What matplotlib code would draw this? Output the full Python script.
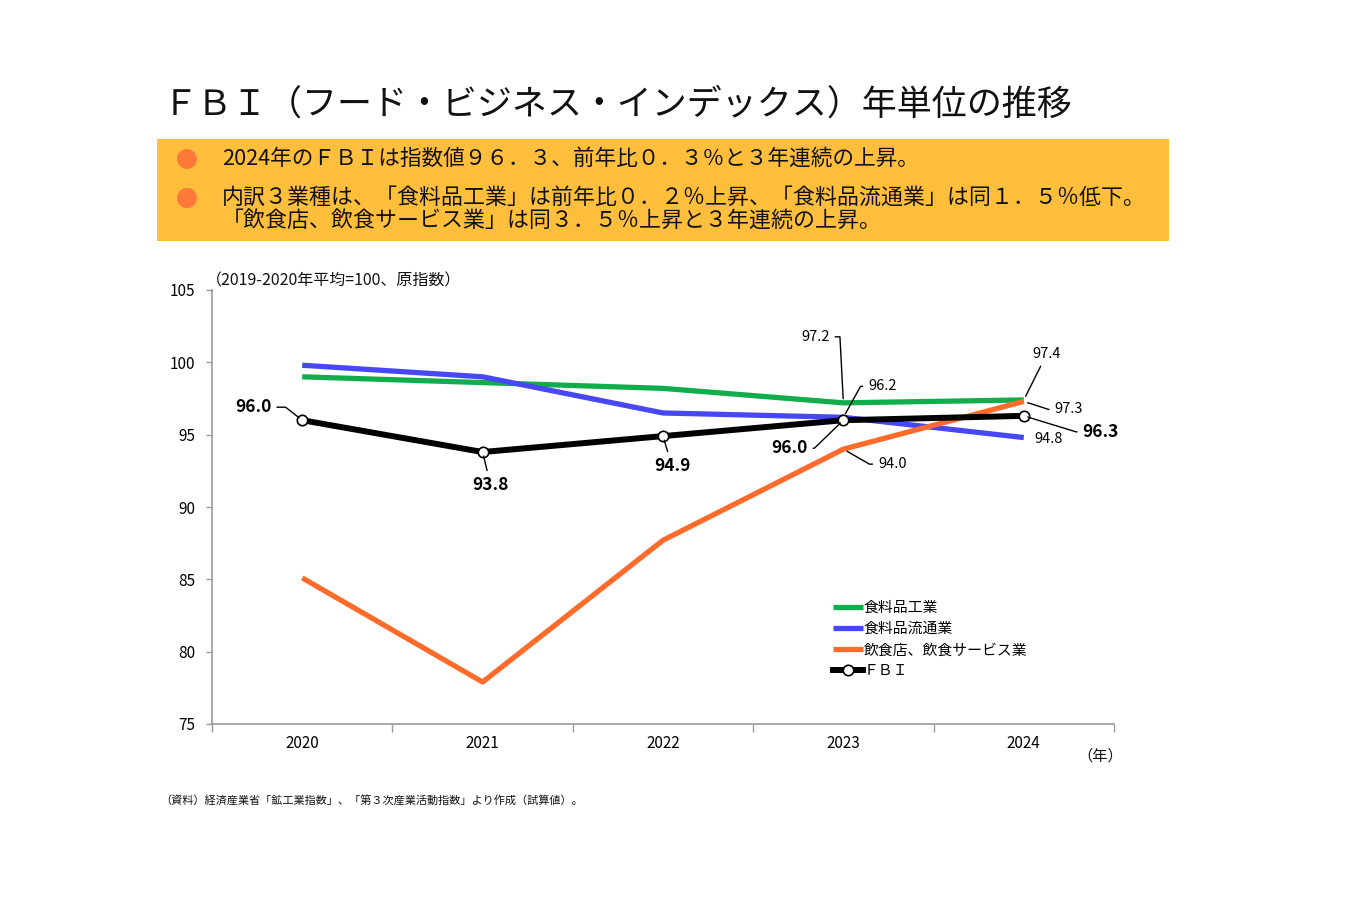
import matplotlib
matplotlib.use("Agg")
import matplotlib.pyplot as plt
from matplotlib.patches import Rectangle, Ellipse

plt.rcParams['font.family'] = ['Noto Sans CJK JP', 'DejaVu Sans']

years = ["2020", "2021", "2022", "2023", "2024"]
food_mfg = [99.0, 98.6, 98.2, 97.2, 97.4]
food_dist = [99.8, 99.0, 96.5, 96.2, 94.8]
food_serv = [85.1, 77.9, 87.7, 94.0, 97.3]
fbi = [96.0, 93.8, 94.9, 96.0, 96.3]

series_names = ["食料品工業", "食料品流通業", "飲食店、飲食サービス業", "ＦＢＩ"]
colors = ["#12AD4B", "#4747F5", "#FF6B2B", "#000000"]

title = "ＦＢＩ（フード・ビジネス・インデックス）年単位の推移"
bullet_lines = [
    "2024年のＦＢＩは指数値９６．３、前年比０．３％と３年連続の上昇。",
    "内訳３業種は、「食料品工業」は前年比０．２％上昇、「食料品流通業」は同１．５％低下。",
    "「飲食店、飲食サービス業」は同３．５％上昇と３年連続の上昇。",
]
unit_note = "（2019-2020年平均=100、原指数）"
year_unit = "（年）"
source = "（資料）経済産業省「鉱工業指数」、「第３次産業活動指数」より作成（試算値）。"
yticks = [75, 80, 85, 90, 95, 100, 105]

W, H = 1350, 900
fig = plt.figure(figsize=(13.5, 9), dpi=100)
fig.patch.set_facecolor("white")

def fx(px):
    return px / W

def fy(py):
    return 1 - py / H

# title
fig.text(fx(163), fy(105), title, fontsize=25.2, va="center", ha="left", color="#111111")

# header box
fig.patches.append(Rectangle((fx(157), fy(241)), fx(1169) - fx(157), fy(139) - fy(241),
                             transform=fig.transFigure, facecolor="#FFBF3C", edgecolor="none"))
for yy in (159, 198):
    fig.patches.append(Ellipse((fx(187), fy(yy)), 20 / W, 20 / H, transform=fig.transFigure,
                               facecolor="#FF7A3A", edgecolor="none"))
fig.text(fx(222), fy(159), bullet_lines[0], fontsize=15.6, va="center", ha="left", color="#111111")
fig.text(fx(222), fy(198), bullet_lines[1], fontsize=15.8, va="center", ha="left", color="#111111")
fig.text(fx(222), fy(222), bullet_lines[2], fontsize=15.8, va="center", ha="left", color="#111111")

# axes
ax = fig.add_axes([fx(212), fy(724), fx(1114) - fx(212), fy(290) - fy(724)])
x = list(range(len(years)))
ax.plot(x, food_mfg, color=colors[0], lw=3.8, label=series_names[0], solid_capstyle="butt", zorder=3)
ax.plot(x, food_dist, color=colors[1], lw=3.8, label=series_names[1], solid_capstyle="butt", zorder=3)
ax.plot(x, food_serv, color=colors[2], lw=3.8, label=series_names[2], solid_capstyle="butt", zorder=3)
ax.plot(x, fbi, color=colors[3], lw=4.3, marker="o", markersize=7.5, markerfacecolor="white",
        markeredgecolor="black", markeredgewidth=1.2, label=series_names[3], zorder=4)

ax.set_xlim(-0.5, len(years) - 0.5)
ax.set_ylim(75, 105)
ax.set_yticks(yticks)
ax.set_yticklabels([str(v) for v in yticks], fontsize=11)
ax.set_xticks(x)
ax.set_xticklabels(years, fontsize=11)
ax.set_xticks([i - 0.5 for i in range(len(years) + 1)], minor=True)
ax.tick_params(axis="x", which="major", length=0, pad=8)
ax.tick_params(axis="x", which="minor", length=6, color="#999999", width=1)
ax.tick_params(axis="y", length=4, color="#999999", width=1, pad=8)
for s in ("top", "right"):
    ax.spines[s].set_visible(False)
for s in ("left", "bottom"):
    ax.spines[s].set_color("#999999")
    ax.spines[s].set_linewidth(1.2)

def ann(yvals, i, txt, dx, dy, bold=False, conn=None):
    kw = dict(xy=(i, yvals[i]), xytext=(dx, dy), textcoords="offset pixels",
              ha="center", va="center", fontsize=12.5 if bold else 10.5,
              fontweight="bold" if bold else "normal", color="black", zorder=6)
    if conn is not None:
        kw["arrowprops"] = dict(arrowstyle="-", color="black", lw=1.0,
                                connectionstyle=conn, shrinkA=2, shrinkB=3)
    ax.annotate(txt, **kw)

ann(fbi, 0, f"{fbi[0]:.1f}", -49, 13, True, "angle,angleA=0,angleB=142,rad=0")
ann(fbi, 1, f"{fbi[1]:.1f}", 8, -33, True, "arc3,rad=0")
ann(fbi, 2, f"{fbi[2]:.1f}", 9, -30, True, "arc3,rad=0")
ann(fbi, 3, f"{fbi[3]:.1f}", -54, -28, True, "angle,angleA=0,angleB=44,rad=0")
ann(fbi, 4, f"{fbi[4]:.1f}", 77, -16, True, "angle,angleA=0,angleB=-17,rad=0")
ann(food_mfg, 3, f"{food_mfg[3]:.1f}", -28, 66, False, "angle,angleA=0,angleB=93,rad=0")
ann(food_dist, 3, f"{food_dist[3]:.1f}", 39, 31, False, "angle,angleA=0,angleB=61,rad=0")
ann(food_serv, 3, f"{food_serv[3]:.1f}", 49, -15, False, "angle,angleA=0,angleB=-30,rad=0")
ann(food_mfg, 4, f"{food_mfg[4]:.1f}", 23, 46, False, "arc3,rad=0")
ann(food_serv, 4, f"{food_serv[4]:.1f}", 45, -8, False, "angle,angleA=0,angleB=-18,rad=0")
ann(food_dist, 4, f"{food_dist[4]:.1f}", 25, -1, False, None)

leg = ax.legend(loc="upper left", bbox_to_anchor=((833 - 212) / 902, (724 - 601) / 434),
                frameon=False, fontsize=10.7, handlelength=2.0, handletextpad=0.05,
                labelspacing=0.48, borderaxespad=0, borderpad=0)

fig.text(fx(206), fy(281), unit_note, fontsize=11.5, ha="left", va="center", color="#111111")
fig.text(fx(1100), fy(756), year_unit, fontsize=11, ha="center", va="center", color="#111111")
fig.text(fx(160), fy(801), source, fontsize=8, ha="left", va="center", color="#111111")

fig.savefig("out.png", dpi=100)
